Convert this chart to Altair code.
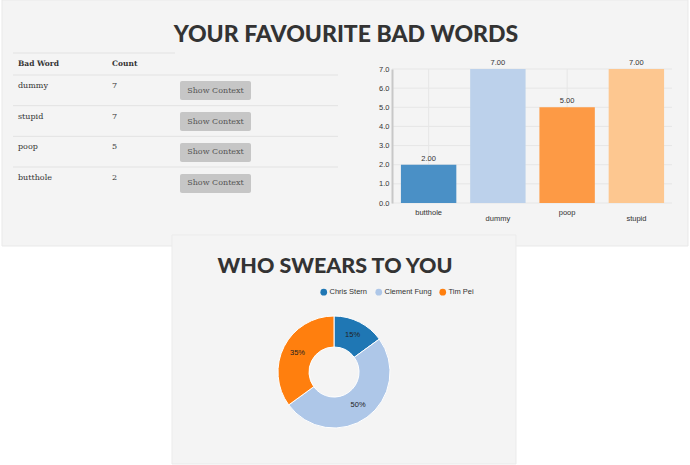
import altair as alt
import pandas as pd

# ---- data ----
words = ["butthole", "dummy", "poop", "stupid"]
counts = [2, 7, 5, 7]
people = ["Chris Stern", "Clement Fung", "Tim Pei"]
swears = [3, 10, 7]
y_ticks = [0, 1, 2, 3, 4, 5, 6, 7]

table_order = [w for _, w in sorted(zip([-c for c in counts], words), key=lambda t: t[0])]

words_df = pd.DataFrame({"word": words, "count": counts})
people_df = pd.DataFrame({"person": people, "n": swears})
ticks_df = pd.DataFrame({"v": y_ticks})
one = pd.DataFrame({"k": [0]})

SERIF = "DejaVu Serif"
SANS = "Liberation Sans"
TITLE = "Lato"

# ---- panels ----
bg_top = alt.Chart(one).mark_rect(fill="#f4f4f4", stroke="#e9e9e9", strokeWidth=1).encode(
    x=alt.value(2), x2=alt.value(688), y=alt.value(0), y2=alt.value(246))
bg_bot = alt.Chart(one).mark_rect(fill="#f4f4f4", stroke="#ebebeb", strokeWidth=1).encode(
    x=alt.value(172), x2=alt.value(516), y=alt.value(235), y2=alt.value(464))

title1 = alt.Chart(one).mark_text(font=TITLE, fontSize=23, fontWeight=900, color="#333333",
                                  align="center", baseline="middle").encode(
    x=alt.value(346), y=alt.value(35), text=alt.value("YOUR FAVOURITE BAD WORDS"))
title2 = alt.Chart(one).mark_text(font=TITLE, fontSize=21.5, fontWeight=900, color="#333333",
                                  align="center", baseline="middle").encode(
    x=alt.value(335), y=alt.value(267), text=alt.value("WHO SWEARS TO YOU"))

# ---- table ----
hdr_word = alt.Chart(one).mark_text(font=SERIF, fontSize=7.5, fontWeight="bold", color="#333",
                                    align="left", baseline="middle").encode(
    x=alt.value(18), y=alt.value(64), text=alt.value("Bad Word"))
hdr_count = alt.Chart(one).mark_text(font=SERIF, fontSize=7.5, fontWeight="bold", color="#333",
                                     align="left", baseline="middle").encode(
    x=alt.value(112), y=alt.value(64), text=alt.value("Count"))
top_line = alt.Chart(one).mark_rule(color="#e2e2e2").encode(
    x=alt.value(13), x2=alt.value(175), y=alt.value(53))

row_lines = alt.Chart(words_df).mark_rule(color="#e2e2e2").encode(
    y=alt.Y("word:N", sort=table_order,
            scale=alt.Scale(type="point", domain=table_order, range=[75, 167], padding=0), axis=None),
    x=alt.value(13), x2=alt.value(338))

row_scale = alt.Scale(type="point", domain=table_order, range=[86, 178], padding=0)
tbl_words = alt.Chart(words_df).mark_text(font=SERIF, fontSize=8, color="#333", align="left",
                                          baseline="middle").encode(
    y=alt.Y("word:N", sort=table_order, scale=row_scale, axis=None),
    x=alt.value(18), text="word:N")
tbl_counts = alt.Chart(words_df).mark_text(font=SERIF, fontSize=8, color="#333", align="left",
                                           baseline="middle").encode(
    y=alt.Y("word:N", sort=table_order, scale=row_scale, axis=None),
    x=alt.value(112), text="count:Q")
table = alt.layer(tbl_words, tbl_counts)

btn_scale = alt.Scale(type="band", domain=table_order, range=[81, 193], paddingInner=0.387, paddingOuter=0)
btn_rect = alt.Chart(words_df).mark_rect(fill="#c6c6c6", cornerRadius=2).encode(
    y=alt.Y("word:N", sort=table_order, scale=btn_scale, axis=None),
    x=alt.value(180), x2=alt.value(251))
btn_text = alt.Chart(words_df).mark_text(font=SERIF, fontSize=8, color="#555", align="center",
                                         baseline="middle").encode(
    y=alt.Y("word:N", sort=table_order, scale=btn_scale, axis=None),
    x=alt.value(215.5), text=alt.value("Show Context"))
buttons = alt.layer(btn_rect, btn_text)

# ---- bar chart ----
x_axis = alt.Axis(title=None, offset=-262, ticks=False, domain=False, labelAngle=0, zindex=2,
                  labelFont=SANS, labelFontSize=7.5, labelColor="#333",
                  labelPadding={"condition": {"test": "round(datum.index * %d) %% 2 == 1" % (len(words) - 1),
                                              "value": 11}, "value": 5})
x_scale = alt.Scale(type="band", domain=words, range=[394, 671], paddingInner=0.2, paddingOuter=0.1)
y_axis = alt.Axis(title=None, offset=-392, values=y_ticks, format=".1f", grid=False, ticks=False,
                  zindex=2, domainColor="#c8c8c8", domainWidth=2, labelPadding=3, labelFont=SANS,
                  labelFontSize=7.5, labelColor="#333", labelFlush=False)
y_scale = alt.Scale(domain=[0, 7], range=[203, 69], nice=False, zero=True)

grid_h = alt.Chart(ticks_df).mark_rule(color="#e6e6e6").encode(
    y=alt.Y("v:Q", scale=y_scale, axis=y_axis), x=alt.value(392), x2=alt.value(672))
grid_v = alt.Chart(words_df).mark_rule(color="#e6e6e6").encode(
    x=alt.X("word:N", sort=words, scale=x_scale, axis=x_axis), y=alt.value(69), y2=alt.value(203))
bars = alt.Chart(words_df).mark_bar().encode(
    x=alt.X("word:N", sort=words, scale=x_scale, axis=x_axis),
    y=alt.Y("count:Q", scale=y_scale, axis=y_axis),
    color=alt.Color("word:N", scale=alt.Scale(domain=words,
                                              range=["#4a90c6", "#bcd1eb", "#fd9a45", "#fdc790"]),
                    legend=None))
bar_lbl = alt.Chart(words_df).mark_text(font=SANS, fontSize=7.5, color="#333", baseline="bottom",
                                        dy=-2).encode(
    x=alt.X("word:N", sort=words, scale=x_scale, axis=x_axis),
    y=alt.Y("count:Q", scale=y_scale, axis=y_axis),
    text=alt.Text("count:Q", format=".2f"))
bar_chart = alt.layer(grid_h, grid_v, bars, bar_lbl)

# ---- donut ----
arc = alt.Chart(people_df).mark_arc(innerRadius=25, outerRadius=56, stroke="white", strokeWidth=1).encode(
    theta=alt.Theta("n:Q", stack=True),
    order=alt.Order("person:N", sort="ascending"),
    color=alt.Color("person:N", scale=alt.Scale(domain=people, range=["#1f77b4", "#aec7e8", "#ff7f0e"]),
                    legend=alt.Legend(title=None, orient="none", legendX=320, legendY=288,
                                      direction="horizontal", symbolType="circle", symbolSize=45,
                                      labelFont=SANS, labelFontSize=7.5, labelColor="#333",
                                      columnPadding=7, labelOffset=2, padding=0,
                                      symbolStrokeWidth=0, symbolOpacity=1)),
    x=alt.value(334), y=alt.value(372))
arc_lbl = alt.Chart(people_df).transform_joinaggregate(total="sum(n)").transform_calculate(
    pct="datum.n / datum.total").mark_text(radius=41, font=SANS, fontSize=7.5, color="#222").encode(
    theta=alt.Theta("n:Q", stack=True),
    order=alt.Order("person:N", sort="ascending"),
    text=alt.Text("pct:Q", format=".0%"),
    x=alt.value(334), y=alt.value(372))
donut = alt.layer(arc, arc_lbl)

chart = alt.layer(
    bg_top, bg_bot, title1, title2, top_line, row_lines, hdr_word, hdr_count,
    table, buttons, bar_chart, donut
).resolve_scale(
    x="independent", y="independent", color="independent", theta="independent"
).properties(
    width=690, height=465, autosize="none", padding=0, background="white"
).configure_view(stroke=None)

chart.save("out.html", embed_options={"renderer": "svg", "actions": False})
